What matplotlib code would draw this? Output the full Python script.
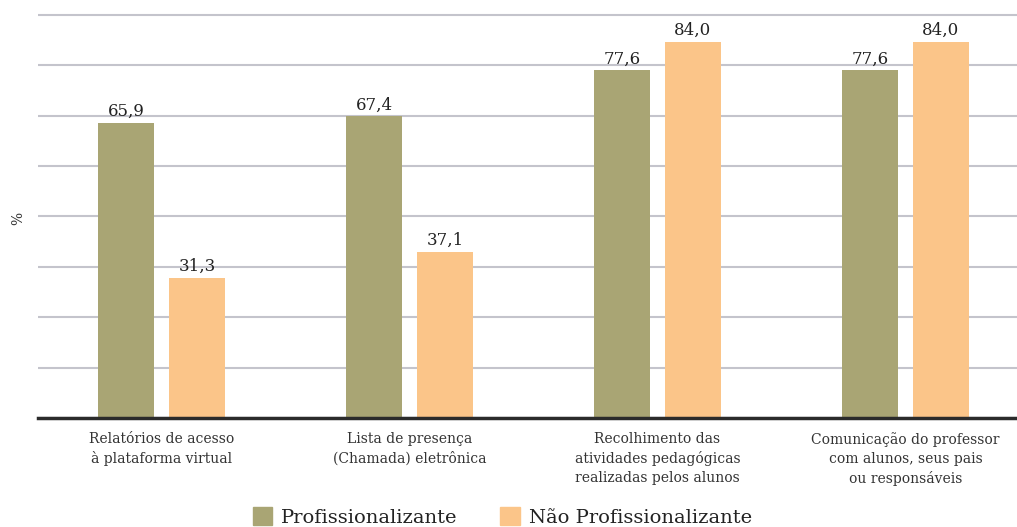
import numpy as np
import matplotlib.pyplot as plt
from matplotlib.patches import Patch

categories = [
    "Relatórios de acesso\nà plataforma virtual",
    "Lista de presença\n(Chamada) eletrônica",
    "Recolhimento das\natividades pedagógicas\nrealizadas pelos alunos",
    "Comunicação do professor\ncom alunos, seus pais\nou responsáveis",
]
profissionalizante = [65.9, 67.4, 77.6, 77.6]
nao_profissionalizante = [31.3, 37.1, 84.0, 84.0]
series_names = ["Profissionalizante", "Não Profissionalizante"]

green = "#a9a574"
orange = "#fbc589"

plt.rcParams['font.family'] = ['DejaVu Serif']

fig = plt.figure(figsize=(10.17, 5.27), dpi=100)
ax = fig.add_axes([0.0374, 0.2068, 0.9626, 0.7733])

x = np.arange(len(categories))
w = 0.226
off = 0.143
b1 = ax.bar(x - off, profissionalizante, w, color=green, zorder=3)
b2 = ax.bar(x + off, nao_profissionalizante, w, color=orange, zorder=3)

def fmt(v):
    return f"{v:.1f}".replace(".", ",")

for bars, vals in ((b1, profissionalizante), (b2, nao_profissionalizante)):
    for rect, v in zip(bars, vals):
        ax.text(rect.get_x() + rect.get_width() / 2, v + 0.6, fmt(v),
                ha='center', va='bottom', fontsize=12, color='#222222')

# gridlines every 90/8, top line at 90 kept inside the axes
ax.set_ylim(0, 91)
ax.set_xlim(-0.498, 3.45)
ax.set_yticks(np.linspace(0, 90, 9))
ax.yaxis.grid(True, color='#c4c4cc', linewidth=1.5, zorder=0)
ax.tick_params(axis='both', length=0)
ax.set_yticklabels([])
ax.set_xticks(x)
ax.set_xticklabels(categories, fontsize=10, color='#333333', linespacing=1.45)
ax.tick_params(axis='x', pad=10)
for s in ('top', 'right', 'left'):
    ax.spines[s].set_visible(False)
ax.spines['bottom'].set_color('#2b2b2b')
ax.spines['bottom'].set_linewidth(2.5)
ax.spines['bottom'].set_zorder(4)

fig.text(0.018, 0.586, "%", rotation=90, ha='center', va='center',
         fontsize=10, color='#333333')

handles = [Patch(color=green), Patch(color=orange)]
fig.legend(handles, series_names, loc='center', bbox_to_anchor=(0.494, 0.019),
           ncol=2, frameon=False, fontsize=14, handlelength=1.0, handleheight=1.0,
           handletextpad=0.45, columnspacing=2.2, labelcolor='#222222')

fig.savefig("out.png", dpi=100)
